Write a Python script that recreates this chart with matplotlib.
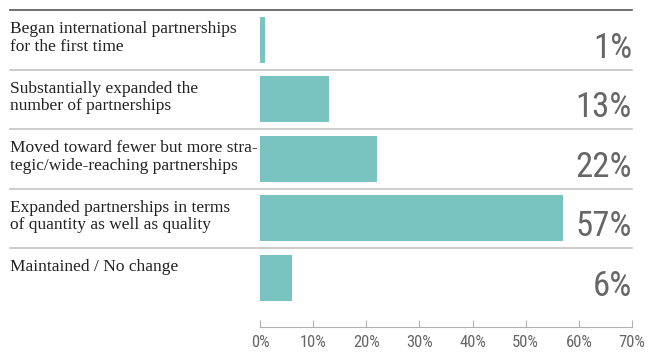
import matplotlib.pyplot as plt
from matplotlib import font_manager
import numpy as np

# data
categories = [
    "Began international partnerships\nfor the first time",
    "Substantially expanded the\nnumber of partnerships",
    "Moved toward fewer but more stra-\ntegic/wide-reaching partnerships",
    "Expanded partnerships in terms\nof quantity as well as quality",
    "Maintained / No change",
]
values = [1, 13, 22, 57, 6]
x_ticks = [0, 10, 20, 30, 40, 50, 60, 70]

BAR_COLOR = "#79c3c1"
SERIF = ["Liberation Serif", "DejaVu Serif"]

# pick a condensed face for the numbers if one is installed
installed = {(f.name, f.stretch) for f in font_manager.fontManager.ttflist}
names = {n for n, _ in installed}
condensed = [n for n, s in installed
             if ("Condensed" in n or "Narrow" in n
                 or s in ("condensed", "semi-condensed", "extra-condensed", 75, 62.5, 87.5))]
NUM_FONT = ["DejaVu Sans"]
NUM_STRETCH = "normal"
for cand in ["Roboto Condensed", "Liberation Sans Narrow", "DejaVu Sans Condensed",
             "Open Sans Condensed", "Noto Sans Condensed"]:
    if cand in names:
        NUM_FONT = [cand, "DejaVu Sans"]
        break
else:
    if condensed:
        NUM_FONT = [sorted(condensed)[0], "DejaVu Sans"]
        NUM_STRETCH = "condensed"

W, H = 650, 358
fig = plt.figure(figsize=(W / 100, H / 100), dpi=100)

# axes placed in pixel terms: 0% at x=260, 70% at x=632, top rule y=10, axis y=327
left, right, top, bottom = 260, 632, 10, 327
ax = fig.add_axes([left / W, 1 - bottom / H, (right - left) / W, (bottom - top) / H])

y = np.arange(len(values))
ax.barh(y, values, height=0.77, color=BAR_COLOR, zorder=2)

ax.set_xlim(0, 70)
row_px = 59.5
ax.set_ylim(-0.5 + (bottom - top) / row_px, -0.5)

# rules between rows (extend left over the label column)
xmin = (10 - left) / (right - left)
ax.axhline(-0.5, xmin=xmin, xmax=1, color="#555555", lw=1.2, clip_on=False)
for i in range(1, len(values)):
    ax.axhline(i - 0.5, xmin=xmin, xmax=1, color="#c4c4c4", lw=1.2, clip_on=False)

for i, (cat, v) in enumerate(zip(categories, values)):
    ax.text(xmin, i - 0.5 + 0.19, cat, transform=ax.get_yaxis_transform(),
            ha="left", va="top", fontsize=12.5, family=SERIF, color="#222222",
            linespacing=1.12)
    ax.text(1.0, i + 0.30, f"{v}%", transform=ax.get_yaxis_transform(),
            ha="right", va="baseline", fontsize=25, family=NUM_FONT,
            fontstretch=NUM_STRETCH, color="#666666")

for s in ["top", "right", "left"]:
    ax.spines[s].set_visible(False)
ax.spines["bottom"].set_color("#b0b0b0")
ax.set_yticks([])
ax.set_xticks(x_ticks)
ax.set_xticklabels([f"{t}%" for t in x_ticks], family=NUM_FONT, fontsize=12,
                   fontstretch=NUM_STRETCH, color="#666666")
ax.tick_params(axis="x", direction="in", length=5, color="#b0b0b0", pad=6)

fig.savefig("out.png", dpi=100)
